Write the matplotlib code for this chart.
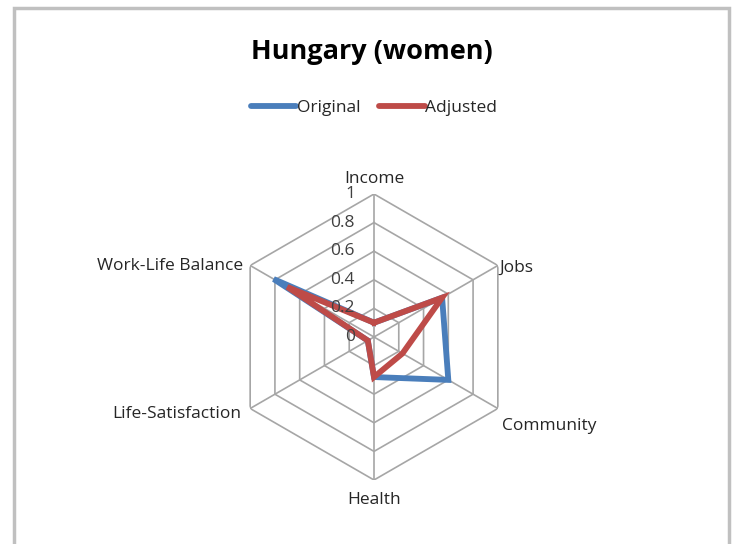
import numpy as np
import matplotlib

matplotlib.use('Agg')
import matplotlib.pyplot as plt
from matplotlib.patches import Rectangle
from matplotlib.transforms import offset_copy

# Data
categories = ['Income', 'Jobs', 'Community', 'Health', 'Life-Satisfaction', 'Work-Life Balance']
original = [0.10, 0.55, 0.60, 0.28, 0.05, 0.81]
adjusted = [0.10, 0.55, 0.23, 0.28, 0.05, 0.70]
levels = [0, 0.2, 0.4, 0.6, 0.8, 1.0]
level_labels = ['0', '0.2', '0.4', '0.6', '0.8', '1']

plt.rcParams['font.family'] = ['Open Sans', 'DejaVu Sans']

W, H = 738, 544
fig = plt.figure(figsize=(W / 100, H / 100), dpi=100)

# chart border
fig.patches.append(Rectangle((14 / W, -0.05), (729 - 14) / W, 1.05 - 8 / H,
                             transform=fig.transFigure, fill=False,
                             edgecolor='#c0c0c0', linewidth=2.5))

cx, cy, R = 374, 337, 143
ax = fig.add_axes([(cx - R) / W, (H - cy - R) / H, 2 * R / W, 2 * R / H], projection='polar')
ax.set_theta_offset(np.pi / 2)
ax.set_theta_direction(-1)
ax.set_ylim(0, 1)
ax.grid(False)
ax.set_xticks([])
ax.set_yticks([])
ax.spines['polar'].set_visible(False)
ax.patch.set_visible(False)

n = len(categories)
angles = np.arange(n) * 2 * np.pi / n
closed = np.append(angles, angles[0])

grid_color = '#a6a6a6'
for lv in levels[1:]:
    ax.plot(closed, [lv] * (n + 1), color=grid_color, lw=1.2, zorder=1)
for a in angles:
    ax.plot([a, a], [0, 1], color=grid_color, lw=1.2, zorder=1)

ax.plot(closed, original + original[:1], color='#4a7ebb', lw=4.2, label='Original',
        solid_joinstyle='miter', zorder=3)
ax.plot(closed, adjusted + adjusted[:1], color='#be4b48', lw=4.2, label='Adjusted',
        solid_joinstyle='miter', zorder=4)

fs = 12.5
# radial value labels
for lv, lab in zip(levels, level_labels):
    ax.text(0, lv, lab, transform=offset_copy(ax.transData, fig=fig, x=-19, y=0, units='dots'),
            ha='right', va='center', fontsize=fs, color='#404040', zorder=5)

# category labels
label_pos = [(0, 15, 'center', 'center'), (2, -2, 'left', 'center'), (4, -18, 'left', 'center'),
             (0, -20, 'center', 'center'), (-9, -5, 'right', 'center'), (-7, -1, 'right', 'center')]
for a, cat, (dx, dy, ha, va) in zip(angles, categories, label_pos):
    ax.text(a, 1, cat, transform=offset_copy(ax.transData, fig=fig, x=dx, y=dy, units='dots'),
            ha=ha, va=va, fontsize=fs, color='#262626')

fig.text(372 / W, 1 - 52 / H, 'Hungary (women)', ha='center', va='center',
         fontsize=19.5, fontweight='bold', color='#000000')

leg = fig.legend(loc='center', bbox_to_anchor=(374 / W, 1 - 108 / H), ncol=2, frameon=False,
                 fontsize=fs, handlelength=2.6, handletextpad=0.05, columnspacing=1.1)
for line in leg.get_lines():
    line.set_solid_capstyle('round')
for t in leg.get_texts():
    t.set_color('#262626')

fig.savefig('out.png', dpi=100)
